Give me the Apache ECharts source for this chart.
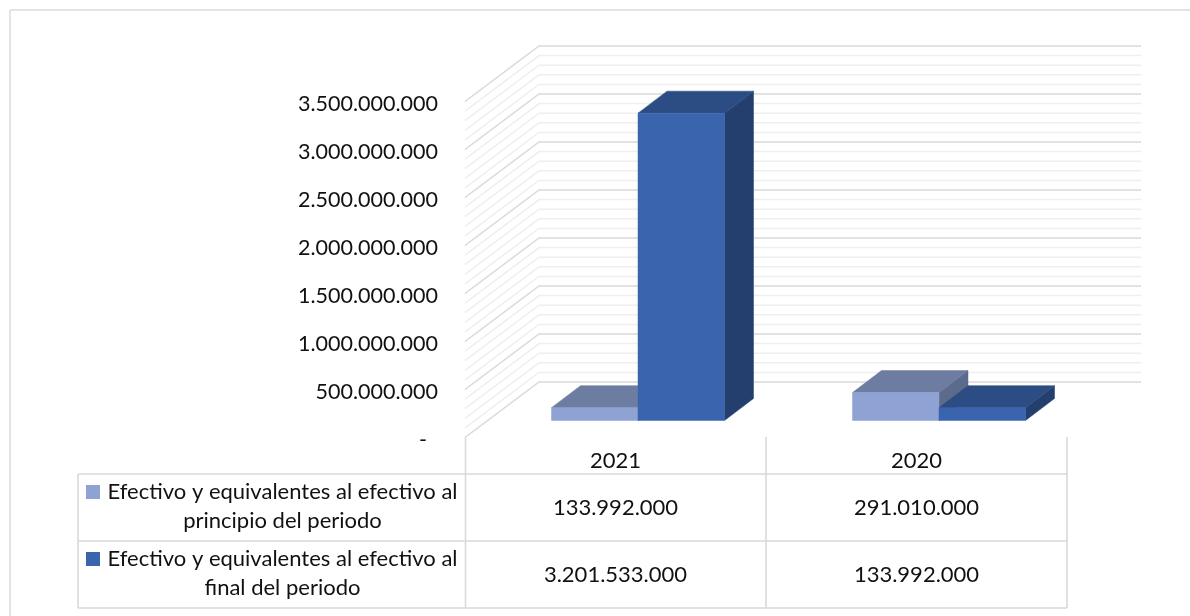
<!DOCTYPE html>
<html><head><meta charset="utf-8">
<style>html,body{margin:0;padding:0;background:#fff}#c{width:1190px;height:616px}</style>
<script src="https://cdn.jsdelivr.net/npm/echarts@6/dist/echarts.min.js"></script>
</head><body><div id="c"></div>
<script>
const categories = ['2021', '2020'];
const seriesNames = ['Efectivo y equivalentes al efectivo al principio del periodo', 'Efectivo y equivalentes al efectivo al final del periodo'];
const principio = [133992000, 291010000];
const finalPeriodo = [3201533000, 133992000];
const majorTicks = [0, 500000000, 1000000000, 1500000000, 2000000000, 2500000000, 3000000000, 3500000000];
const minorTicks = [100000000,200000000,300000000,400000000,600000000,700000000,800000000,900000000,1100000000,1200000000,1300000000,1400000000,1600000000,1700000000,1800000000,1900000000,2100000000,2200000000,2300000000,2400000000,2600000000,2700000000,2800000000,2900000000,3100000000,3200000000,3300000000,3400000000];
const legendLines = [['Efectivo y equivalentes al efectivo al', 'principio del periodo'], ['Efectivo y equivalentes al efectivo al', 'final del periodo']];

const FONT = 'Lato';
const TEXT = '#111';
const SIZE = 22;
const AXIS_SIZE = 21.5;
const LINE = '#d9d9d9';
const WALL = [74, 55.5];
const BAR = [29, 22];
const PLANE = [22.5, 17];
const GRID = {left: 465, top: 101.5, width: 602, height: 336};
const BAR_W = 86.5;
const ROWS = [474, 541, 608];
const fmtCell = v => String(v).replace(/\B(?=(\d{3})+$)/g, '.');
const fmt = v => v === 0 ? '-  ' : fmtCell(v);

function poly(points, fill) {
  return {type: 'polygon', shape: {points}, style: {fill, stroke: fill, lineWidth: 0.5}};
}
function barItem(slot, front, top, side) {
  return function (params, api) {
    const base = api.coord([api.value(0), 0]);
    const head = api.coord([api.value(0), api.value(1)]);
    const x0 = base[0] + PLANE[0] + slot * BAR_W, x1 = x0 + BAR_W;
    const yb = base[1] - PLANE[1], yt = head[1] - PLANE[1];
    const dx = BAR[0], dy = BAR[1];
    return {type: 'group', children: [
      poly([[x1, yt], [x1 + dx, yt - dy], [x1 + dx, yb - dy], [x1, yb]], side),
      poly([[x0, yt], [x0 + dx, yt - dy], [x1 + dx, yt - dy], [x1, yt]], top),
      poly([[x0, yt], [x1, yt], [x1, yb], [x0, yb]], front)
    ]};
  };
}
function cellItem(row) {
  return function (params, api) {
    const p = api.coord([api.value(0), 0]);
    return {type: 'text', x: p[0], y: (ROWS[row] + ROWS[row + 1]) / 2,
      style: {text: fmtCell(api.value(1)), font: SIZE + 'px ' + FONT, fill: TEXT, align: 'center', verticalAlign: 'middle'}};
  };
}
function wallItem(color) {
  return (p, api) => {
    const y = api.coord([0, api.value(1)])[1]; const x0 = GRID.left, x1 = x0 + WALL[0], x2 = x1 + GRID.width;
    return {type: 'polyline', shape: {points: [[x0, y], [x1, y - WALL[1]], [x2, y - WALL[1]]]}, style: {fill: null, stroke: color, lineWidth: 1.5}};
  };
}
const seg = (x1, y1, x2, y2, c, w) => ({type: 'line', shape: {x1, y1, x2, y2}, style: {stroke: c || LINE, lineWidth: w || 1.6}, silent: true});
const tableLines = [
  seg(78, ROWS[0], 1067, ROWS[0]), seg(78, ROWS[1], 1067, ROWS[1]), seg(78, ROWS[2], 1067, ROWS[2]),
  seg(78, ROWS[0], 78, ROWS[2]), seg(465.5, 437, 465.5, ROWS[2]), seg(766, 437, 766, ROWS[2]), seg(1067, 437, 1067, ROWS[2])
];
const legendColors = ['#8fa2d4', '#3a64ad'];
const legendGraphics = [];
legendLines.forEach((l, i) => {
  const y = ROWS[i];
  legendGraphics.push({type: 'rect', shape: {x: 86, y: y + 11, width: 14, height: 14}, style: {fill: legendColors[i]}});
  legendGraphics.push({type: 'text', x: 282.5, y: y + 18, style: {text: l[0], font: SIZE + 'px ' + FONT, fill: TEXT, align: 'center', verticalAlign: 'middle'}});
  legendGraphics.push({type: 'text', x: 282.5, y: y + 47, style: {text: l[1], font: SIZE + 'px ' + FONT, fill: TEXT, align: 'center', verticalAlign: 'middle'}});
});

const chart = echarts.init(document.getElementById('c'), null, {renderer: 'canvas'});
chart.setOption({
  animation: false,
  backgroundColor: '#fff',
  grid: GRID,
  graphic: [
    seg(10, 10, 1190, 10, '#e4e4e4', 2), seg(10, 10, 10, 616, '#e4e4e4', 2),
    ...tableLines, ...legendGraphics
  ],
  xAxis: {type: 'category', data: categories, axisLine: {show: false}, axisTick: {show: false},
    axisLabel: {color: TEXT, fontFamily: FONT, fontSize: SIZE, margin: 12}},
  yAxis: {type: 'value', min: 0, max: 3500000000, interval: 500000000, splitLine: {show: false},
    axisLine: {show: false}, axisTick: {show: false},
    axisLabel: {color: TEXT, fontFamily: FONT, fontSize: AXIS_SIZE, margin: 27, verticalAlign: 'top', lineHeight: 6, formatter: fmt}},
  series: [
    {type: 'custom', name: 'minor', coordinateSystem: 'cartesian2d', silent: true, z: 1, clip: false, data: minorTicks.map(v => [0, v]), encode: {x: 0, y: 1}, renderItem: wallItem('#efefef')},
    {type: 'custom', name: 'major', coordinateSystem: 'cartesian2d', silent: true, z: 1, clip: false, data: majorTicks.map(v => [0, v]), encode: {x: 0, y: 1}, renderItem: wallItem(LINE)},
    {type: 'custom', name: seriesNames[0], coordinateSystem: 'cartesian2d', z: 2, clip: false, data: principio.map((v, i) => [i, v]), encode: {x: 0, y: 1},
      renderItem: barItem(-1, '#8fa2d4', '#6d7ca1', '#5c6a8c')},
    {type: 'custom', name: seriesNames[1], coordinateSystem: 'cartesian2d', z: 3, clip: false, data: finalPeriodo.map((v, i) => [i, v]), encode: {x: 0, y: 1},
      renderItem: barItem(0, '#3a64ad', '#2c4c84', '#243f6d')},
    {type: 'custom', name: 'tabla1', coordinateSystem: 'cartesian2d', silent: true, z: 4, clip: false, data: principio.map((v, i) => [i, v]), encode: {x: 0, y: 1}, renderItem: cellItem(0)},
    {type: 'custom', name: 'tabla2', coordinateSystem: 'cartesian2d', silent: true, z: 4, clip: false, data: finalPeriodo.map((v, i) => [i, v]), encode: {x: 0, y: 1}, renderItem: cellItem(1)}
  ]
});
</script></body></html>
